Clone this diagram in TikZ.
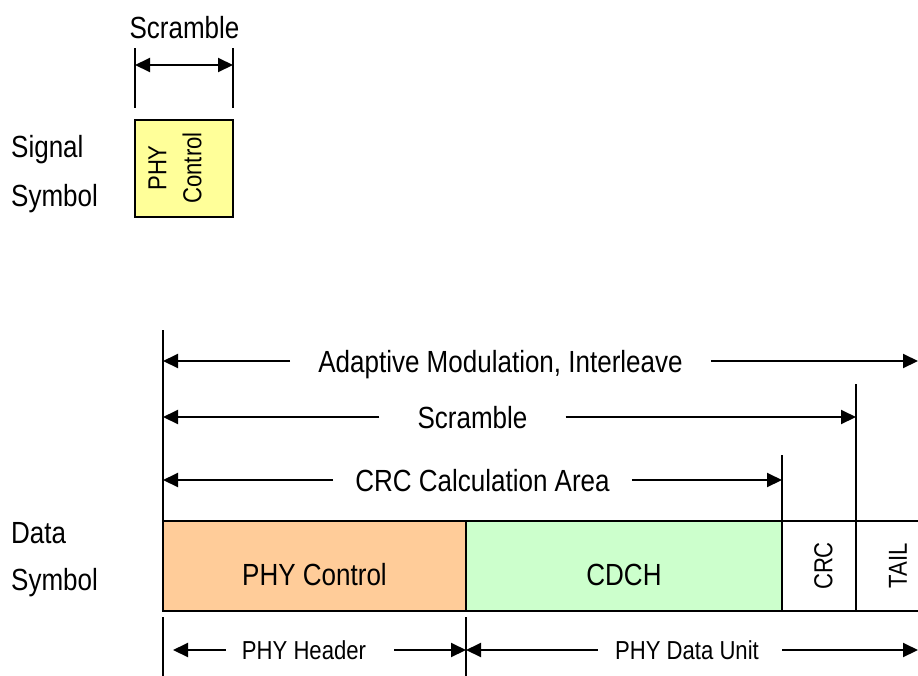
\documentclass[tikz,border=0pt]{standalone}
\usepackage{fontspec}
\setmainfont{Liberation Sans}[FakeStretch=0.85]
\usetikzlibrary{arrows.meta, positioning}
\definecolor{hdrorange}{RGB}{255, 204, 153}
\definecolor{unitgreen}{RGB}{204, 255, 204}
\definecolor{sigyellow}{RGB}{255, 255, 153}
\newcommand{\lblfont}{\fontsize{30.6}{36}\selectfont}
\newcommand{\smlfont}{\fontsize{26}{35}\selectfont}

\begin{document}
\begin{tikzpicture}[x=1pt, y=-1pt, font=\lblfont, >={Triangle[length=15pt, width=14pt]},
    field/.style={draw, line width=1.8pt, minimum height=90pt, inner sep=0pt, outer sep=0pt},
    lbl/.style={text height=22pt, text depth=0pt, inner sep=0pt},
    sml/.style={font=\smlfont, text height=18.6pt, text depth=0pt, inner sep=0pt},
    side/.style={anchor=base west, inner sep=0pt},
    tick/.style={line width=1.4pt},
    dim/.style={line width=2pt}]
  \path[use as bounding box, clip] (0,0) rectangle (918,675);
  % Signal symbol
  \node[side] (sigw1) at (11,157) {Signal};
  \node[side] (sigw2) at (11,206) {Symbol};
  \node[field, fill=sigyellow, minimum width=98pt, minimum height=97pt, anchor=north west] (sig) at (135,120) {};
  \node[font=\smlfont, rotate=90, align=center, inner sep=0pt] (sigtxt) at (175,168) {PHY\\Control};
  \node[lbl] (sclttl) at (184.5,27.5) {Scramble};
  \coordinate (sclA) at (135,48);
  \coordinate (sclB) at (233,48);
  \draw[tick] (sclA) -- ++(0,60);
  \draw[tick] (sclB) -- ++(0,60);
  \draw[dim, <->] ([yshift=-17pt]sclA) -- ([yshift=-17pt]sclB);
  % Data symbol
  \node[side] (datw1) at (11,543) {Data};
  \node[side] (datw2) at (11,590) {Symbol};
  \node[field, fill=hdrorange, minimum width=303pt, anchor=north west] (hdr) at (163,521) {};
  \node[field, fill=unitgreen, minimum width=316pt, right=0pt of hdr] (cdch) {};
  \node[field, minimum width=74pt, right=0pt of cdch] (crc) {};
  \node[field, minimum width=75pt, right=0pt of crc] (tail) {};
  \node[lbl] (hdrtxt) at ([yshift=-8pt]hdr.center) {PHY Control};
  \node[lbl] (cdchtxt) at ([yshift=-8pt]cdch.center) {CDCH};
  \node[sml, rotate=90] (crctxt) at ([xshift=4pt]crc.center) {CRC};
  \node[sml, rotate=90] (tailtxt) at ([xshift=4pt]tail.center) {TAIL};
  % Area lines
  \coordinate (topL) at (163,330);
  \draw[tick] (topL) -- (hdr.north west);
  \draw[tick] (crc.north west) -- ++(0,-66);
  \draw[tick] (tail.north west) -- ++(0,-137);
  \draw[tick] ([yshift=-6pt]hdr.south west) -- ++(0,64);
  \draw[tick] ([yshift=-6pt]hdr.south east) -- ++(0,64);
  % Adaptive modulation
  \node[lbl, inner xsep=28pt] (amtxt) at (500.5,361) {Adaptive Modulation, Interleave};
  \coordinate (amR) at (918,361);
  \draw[dim, ->] (amtxt.west) -- (amtxt.west -| topL);
  \draw[dim, ->] (amtxt.east) -- (amR);
  % Scramble
  \node[lbl, inner xsep=38pt] (scrtxt) at (472.5,417) {Scramble};
  \draw[dim, ->] (scrtxt.west) -- (scrtxt.west -| topL);
  \draw[dim, ->] (scrtxt.east) -- (scrtxt.east -| tail.west);
  % CRC area
  \node[lbl, inner xsep=22pt] (calctxt) at (482.5,480) {CRC Calculation Area};
  \draw[dim, ->] (calctxt.west) -- (calctxt.west -| topL);
  \draw[dim, ->] (calctxt.east) -- (calctxt.east -| crc.west);
  % Header and data unit
  \node[sml] (phtxt) at (304,650) {PHY Header};
  \draw[dim, ->, shorten <=16pt, shorten >=10pt] (phtxt.west) -- (phtxt.west -| hdr.west);
  \draw[dim, ->, shorten <=28pt] (phtxt.east) -- (phtxt.east -| hdr.east);
  \node[sml] (putxt) at (687,650) {PHY Data Unit};
  \coordinate (puR) at (918,650);
  \draw[dim, ->, shorten <=17pt] (putxt.west) -- (putxt.west -| cdch.west);
  \draw[dim, ->, shorten <=23pt] (putxt.east) -- (puR);
\end{tikzpicture}
\end{document}
